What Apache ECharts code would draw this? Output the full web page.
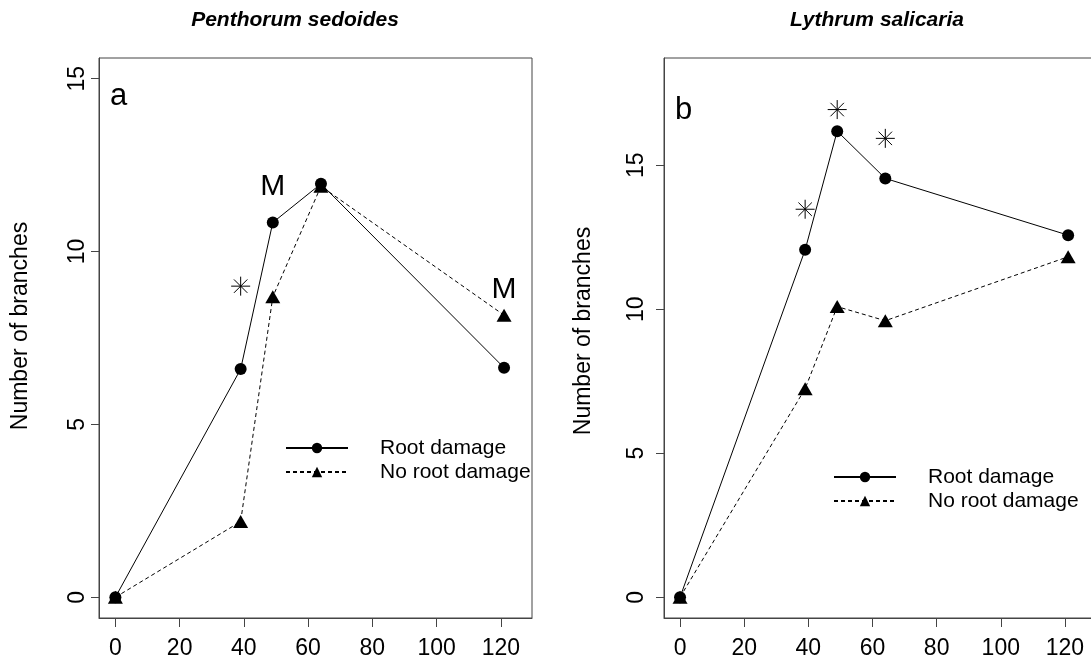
<!DOCTYPE html>
<html><head><meta charset="utf-8">
<script src="https://cdn.jsdelivr.net/npm/echarts@6/dist/echarts.min.js"></script>
<style>html,body{margin:0;padding:0;background:#fff}#c{width:1091px;height:662px}</style>
</head><body><div id="c"></div>
<script>
// ---- data ----
const days = [0, 39, 49, 64, 121];
const pentRoot = [0, 6.6, 10.84, 11.96, 6.64];
const pentNoRoot = [0, 2.19, 8.69, 11.89, 8.16];
const lythRoot = [0, 12.06, 16.18, 14.54, 12.57];
const lythNoRoot = [0, 7.24, 10.09, 9.6, 11.82];
const xTicks = [0, 20, 40, 60, 80, 100, 120];
const yTicksA = [0, 5, 10, 15];
const yTicksB = [0, 5, 10, 15];
const pentStarX = [39], pentStarY = [9.0];
const pentMX = [49, 121], pentMY = [11.88, 8.89];
const lythStarX = [39, 49, 64], lythStarY = [13.47, 16.93, 15.93];
const titles = ['Penthorum sedoides', 'Lythrum salicaria'];
const panelLetters = ['a', 'b'];
const seriesNames = ['Root damage', 'No root damage'];
const yName = 'Number of branches';

// ---- style ----
const FF = '"Liberation Sans", Arial, sans-serif';
const AX = '#444';
const STAR = 'path://M0,-1.414L0,1.414M-1.414,0L1.414,0M-1,-1L1,1M-1,1L1,-1';

function pairs(xs, ys) { return xs.map((x, i) => [x, ys[i]]); }

function xAxisOf(gi, min, max) {
  return {
    type: 'value', gridIndex: gi, min: min, max: max,
    splitLine: {show: false},
    axisLine: {show: true, onZero: false, lineStyle: {color: AX, width: 1}},
    axisTick: {show: true, length: 9, lineStyle: {color: AX}, customValues: xTicks},
    axisLabel: {show: true, customValues: xTicks, margin: 19, fontSize: 23, color: '#000', fontFamily: FF}
  };
}
function yAxisOf(gi, min, max, ticks, margin) {
  return {
    type: 'value', gridIndex: gi, min: min, max: max,
    splitLine: {show: false},
    axisLine: {show: true, onZero: false, lineStyle: {color: AX, width: 1}},
    axisTick: {show: true, length: 8, lineStyle: {color: AX}, customValues: ticks},
    axisLabel: {show: true, customValues: ticks, rotate: 90, margin: margin, fontSize: 23, color: '#000', fontFamily: FF}
  };
}
function lineSeries(name, gi, ys, dashed) {
  return {
    name: name, type: 'line', xAxisIndex: gi, yAxisIndex: gi,
    data: pairs(days, ys), silent: true,
    symbol: dashed ? 'triangle' : 'circle',
    symbolSize: dashed ? [15, 13] : 12,
    showSymbol: true,
    lineStyle: {color: '#000', width: 1, type: dashed ? [4, 3] : 'solid'},
    itemStyle: {color: '#000', opacity: 1},
    z: dashed ? 3 : 4
  };
}
function starSeries(gi, xs, ys) {
  return {
    type: 'scatter', xAxisIndex: gi, yAxisIndex: gi, silent: true,
    data: pairs(xs, ys), symbol: STAR, symbolSize: 19,
    itemStyle: {color: 'rgba(0,0,0,0)', borderColor: '#000', borderWidth: 1, opacity: 1}, z: 5
  };
}
function legendOf(left, top) {
  return {
    data: seriesNames, left: left, top: top, orient: 'vertical',
    itemWidth: 62, itemHeight: 13, itemGap: 0, selectedMode: false, padding: 0,
    textStyle: {fontSize: 21, lineHeight: 24, color: '#000', fontFamily: FF, padding: [0, 0, 0, 27]}
  };
}

const chart = echarts.init(document.getElementById('c'), null, {renderer: 'canvas'});
chart.setOption({
  animation: false,
  backgroundColor: '#fff',
  grid: [
    {left: 99, top: 58, width: 433, height: 560, show: true, borderColor: AX, borderWidth: 1, backgroundColor: 'transparent', containLabel: false, outerBoundsMode: 'none'},
    {left: 664, top: 58, width: 433, height: 560, show: true, borderColor: AX, borderWidth: 1, backgroundColor: 'transparent', containLabel: false, outerBoundsMode: 'none'}
  ],
  xAxis: [xAxisOf(0, -5.1, 129.7), xAxisOf(1, -5, 130)],
  yAxis: [yAxisOf(0, -0.6, 15.6, yTicksA, 10), yAxisOf(1, -0.72, 18.72, yTicksB, 16)],
  legend: [legendOf(285, 436), legendOf(833, 465)],
  series: [
    lineSeries(seriesNames[0], 0, pentRoot, false),
    lineSeries(seriesNames[1], 0, pentNoRoot, true),
    lineSeries(seriesNames[0], 1, lythRoot, false),
    lineSeries(seriesNames[1], 1, lythNoRoot, true),
    starSeries(0, pentStarX, pentStarY),
    starSeries(1, lythStarX, lythStarY),
    {
      type: 'scatter', xAxisIndex: 0, yAxisIndex: 0, silent: true,
      data: pairs(pentMX, pentMY), symbol: 'circle', symbolSize: 1,
      itemStyle: {color: 'rgba(0,0,0,0)', opacity: 1},
      label: {show: true, position: 'inside', formatter: 'M', fontSize: 30, color: '#000', opacity: 1, fontFamily: FF}, z: 6
    }
  ],
  graphic: [
    {type: 'text', x: 295, y: 20, style: {text: titles[0], font: 'italic bold 21px ' + FF, fill: '#000', textAlign: 'center', textVerticalAlign: 'middle'}},
    {type: 'text', x: 877, y: 20, style: {text: titles[1], font: 'italic bold 21px ' + FF, fill: '#000', textAlign: 'center', textVerticalAlign: 'middle'}},
    {type: 'text', x: 110, y: 96, style: {text: panelLetters[0], font: '31px ' + FF, fill: '#000', textAlign: 'left', textVerticalAlign: 'middle'}},
    {type: 'text', x: 675, y: 110, style: {text: panelLetters[1], font: '31px ' + FF, fill: '#000', textAlign: 'left', textVerticalAlign: 'middle'}},
    {type: 'text', x: 21, y: 326, rotation: Math.PI / 2, style: {text: yName, font: '23px ' + FF, fill: '#000', textAlign: 'center', textVerticalAlign: 'middle'}},
    {type: 'text', x: 584, y: 331, rotation: Math.PI / 2, style: {text: yName, font: '23px ' + FF, fill: '#000', textAlign: 'center', textVerticalAlign: 'middle'}}
  ]
});
</script>
</body></html>
